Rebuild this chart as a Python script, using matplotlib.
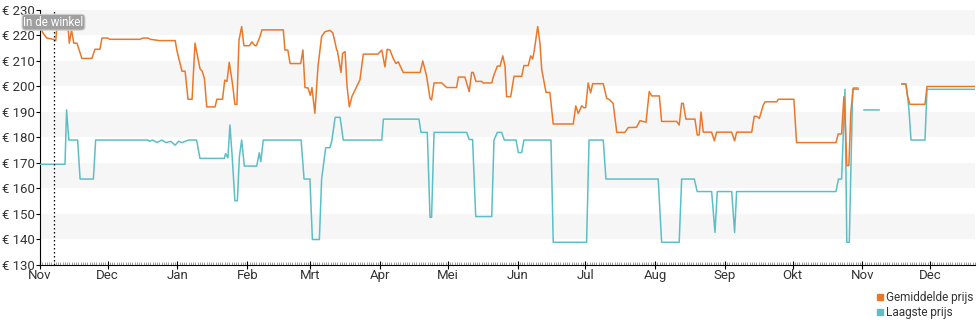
import matplotlib
matplotlib.use("Agg")
import numpy as np
import pandas as pd
import matplotlib.pyplot as plt
import matplotlib.dates as mdates
from matplotlib.lines import Line2D

plt.rcParams['font.family'] = ['Roboto', 'DejaVu Sans']

start = pd.Timestamp('2018-11-01')
store_day = 6  # "In de winkel"
end_day = 415

month_labels = ["Jan", "Feb", "Mrt", "Apr", "Mei", "Jun",
                "Jul", "Aug", "Sep", "Okt", "Nov", "Dec"]
y_ticks = [130, 140, 150, 160, 170, 180, 190, 200, 210, 220, 230]

# gemiddelde prijs (days since start, price)
avg_days = [0, 1.3, 3, 6, 7, 7.7, 10, 12.4, 13, 14, 15, 16.4, 18.6, 23, 24.4, 26.6,
            27.5, 30, 31, 44.4, 45.7, 48, 49, 53, 60, 60.8, 63, 64.4, 65.7, 67.5,
            68.8, 71, 72, 73, 74, 77.7, 78.5, 81, 82, 83, 84, 85.6, 86.5, 87.4,
            88.3, 89.5, 90.5, 93, 94, 95.4, 96, 97.6, 98.5, 108, 108.7, 110, 111,
            115.7, 116.7, 117.6, 119, 120, 120.7, 122, 123.4, 125, 126.5, 128.7,
            130, 131.7, 132, 133.6, 134.3, 135.4, 136.3, 137.3, 138.5, 140.6, 142,
            143.5, 150, 151.7, 153.1, 154.1, 155.3, 156.8, 158, 159, 161.2, 168.7,
            169.9, 171.6, 173.1, 173.8, 174.9, 178.3, 180.5, 184.9, 185.7, 188.6,
            190.5, 191.6, 192.3, 193.5, 196, 196.7, 200.5, 201.5, 203, 204.2, 205.4,
            206.4, 207.1, 208.9, 210.4, 213.8, 214.8, 216.7, 217.8, 218.7, 219.4,
            220.9, 221.9, 222.7, 224.6, 226.3, 227.8, 236.7, 237.8, 238.9, 240.4,
            241.4, 242.2, 243.3, 244.4, 245.3, 250, 251.5, 253, 254.4, 256, 259.6,
            261.1, 264.8, 266.3, 269, 270.4, 271.5, 274.9, 275.9, 282.6, 283.7,
            284.8, 285.5, 286.7, 290.7, 291.7, 292.6, 293.4, 294.4, 298.1, 299.3,
            300.3, 307, 308.3, 309.2, 315.9, 317, 318.1, 319.3, 321, 321.8, 327,
            327.7, 334.6, 335.8, 353.3, 354.3, 355.8, 356.8, 357.6, 358.1, 359,
            359.9, 361, 363, 370, 382.6, 384.3, 385.1, 386.1, 392.8, 393.7, 415]
avg_price = [223.5, 221, 219, 218.5, 218, 226, 224, 224, 217, 222, 217, 217, 211, 211,
             214.6, 214.6, 219, 219, 218.5, 218.5, 219, 219, 218.5, 218, 218, 214, 206,
             206, 195, 195, 217, 207, 206, 203, 192, 192, 195, 195, 202.5, 202, 209.5,
             200, 193, 193, 218, 223.5, 216, 216, 217.5, 216, 216, 219.5, 222.2, 222.2,
             214.3, 214.3, 209, 209, 214.3, 199.6, 199.4, 196.5, 199.6, 189.5, 208,
             219.6, 221.5, 222, 221, 214.3, 214, 205.5, 213, 213.7, 200, 192, 196.2,
             200, 202.6, 212.7, 212.7, 214.3, 207.7, 214.6, 214.3, 211, 209, 209.7,
             205.5, 205.5, 210, 204, 195.4, 194.7, 201.4, 201.4, 199.6, 199.6, 203.7,
             203.7, 198, 205.5, 205.5, 202, 202, 201.4, 201.4, 204.6, 208, 208, 212,
             208, 196, 196, 204, 204, 208.2, 208.2, 212, 210.8, 214.3, 223.5, 217.1,
             206.6, 197.7, 197.7, 185.3, 185.3, 192.4, 189.4, 192.4, 191.7, 191.7,
             201.4, 197.5, 201.1, 201.1, 195.4, 194.7, 193.3, 182, 182, 183.9, 184,
             186.6, 186, 198, 196.3, 196.3, 186.3, 186.3, 184.9, 193.4, 193.4, 187.2,
             187.2, 181, 181, 190, 182.1, 182.1, 178.7, 182.1, 182.1, 178.7, 182.1,
             182.1, 188.3, 188.3, 187.5, 192.7, 194, 194, 195, 195, 178, 178, 181.4,
             181.4, 196, 182, 169, 169, 190, 199.4, 199.4, np.nan, 201, 201, 196, 193,
             193, 200, 200]

# laagste prijs
low_days = [0, 11.1, 11.8, 12.8, 16.7, 17.8, 23.7, 24.7, 48, 48.5, 50, 52, 54, 56, 58,
            60, 61.5, 63, 64.5, 66, 69.5, 71, 81.8, 82.4, 83.4, 84.3, 85.3, 86.5, 87.6,
            88.5, 89.5, 90.7, 96.2, 97.3, 98, 99.1, 115.9, 117.2, 119.8, 120.9, 124,
            125, 126.8, 128.7, 129.5, 131, 133.2, 134.6, 151.7, 152.4, 168.2, 169.1,
            171.9, 173.1, 173.8, 174.9, 189.4, 190.5, 192, 193.4, 200.5, 201.5, 203,
            204.9, 206.1, 211.3, 212.3, 213.8, 214.8, 226.8, 227.8, 242.6, 243.7, 250,
            251.2, 274.4, 275.9, 283.7, 284.8, 290.4, 291.7, 298.1, 299.6, 300.6, 307,
            308.3, 309.2, 353.3, 354.4, 355.8, 357.3, 358.1, 359.2, 360.7, 363.2, 364.5,
            365.7, 372.4, 378, 382.6, 384.3, 385.1, 385.7, 386.6, 392.8, 393.7, 415]
low_price = [169.5, 169.5, 190.8, 179, 179, 163.7, 163.7, 179, 179, 178.5, 179, 178, 179,
             178, 178.5, 177, 178.5, 178, 178.5, 179, 179, 171.8, 171.8, 173.7, 172,
             184.9, 172.5, 155.2, 155.2, 172.5, 179, 168.8, 168.8, 174, 170.5, 179, 179,
             163.7, 163.7, 140, 140, 163.7, 176, 176, 178.6, 187.9, 187.9, 179, 179,
             187.2, 187.2, 182, 182, 148.7, 148.7, 182, 182, 179.2, 179.2, 149, 149, 179,
             182, 182, 179, 179, 174.1, 174.1, 179, 179, 138.9, 138.9, 179, 179, 163.7,
             163.7, 138.9, 138.9, 163.7, 163.7, 158.8, 158.8, 142.8, 158.8, 158.8, 142.8,
             158.8, 158.8, 163.7, 163.7, 198.9, 138.9, 138.9, 198.9, 198.9, np.nan,
             190.8, 190.8, np.nan, 201, 201, 196, 190.8, 179, 179, 198.9, 198.9]

orange = "#e8792b"
teal = "#5cbfc6"

def to_dates(days):
    return start + pd.to_timedelta(days, unit='D')

fig = plt.figure(figsize=(9.8, 3.25), dpi=100)
ax = fig.add_axes([40 / 980, 60 / 325, 935 / 980, 255 / 325])

for lo in [140, 160, 180, 200, 220]:
    ax.axhspan(lo, lo + 10, color="#f6f6f6", lw=0, zorder=0)

ax.plot(to_dates(low_days), low_price, color=teal, lw=1.1, zorder=3)
ax.plot(to_dates(avg_days), avg_price, color=orange, lw=1.1, zorder=3)

ax.axvline(to_dates([store_day])[0], color="black", ls=(0, (1.2, 2)), lw=0.9, zorder=4)
ax.text(to_dates([store_day])[0], 225.2, "In de winkel", ha="center", va="center",
        color="white", fontsize=8.3, zorder=5,
        bbox=dict(boxstyle="round,pad=0.12,rounding_size=0.3", fc="#a0a0a0", ec="#d0d0d0", lw=0.8))

ax.set_xlim(start, to_dates([end_day])[0])
ax.set_ylim(130, 230)
ax.set_yticks(y_ticks)
ax.set_yticklabels([f"€ {v}" for v in y_ticks])

ax.xaxis.set_major_locator(mdates.MonthLocator())
ax.xaxis.set_major_formatter(plt.FuncFormatter(lambda x, p: month_labels[mdates.num2date(x).month - 1]))
ax.xaxis.set_minor_locator(mdates.DayLocator())

for side in ["top", "right"]:
    ax.spines[side].set_visible(False)
ax.spines["left"].set_color("black")
ax.spines["bottom"].set_color("black")

ax.tick_params(axis="y", length=3, width=0.8, labelsize=9.5, labelcolor="#333333", pad=0.5)
ax.tick_params(axis="x", which="major", direction="inout", length=6, width=0.8,
               labelsize=9.5, labelcolor="#333333", pad=0)
ax.tick_params(axis="x", which="minor", direction="in", length=2.5, width=0.5, color="#777777")

handles = [Line2D([], [], marker="s", ls="", color=orange, markersize=5),
           Line2D([], [], marker="s", ls="", color=teal, markersize=5)]
fig.legend(handles, ["Gemiddelde prijs", "Laagste prijs"], loc="upper right",
           bbox_to_anchor=(1.0, 0.125), frameon=False, fontsize=8.5,
           handlelength=0.6, handletextpad=0.2, labelspacing=0.1,
           borderpad=0.1, labelcolor="#333333")

fig.savefig("out.png", dpi=100)
